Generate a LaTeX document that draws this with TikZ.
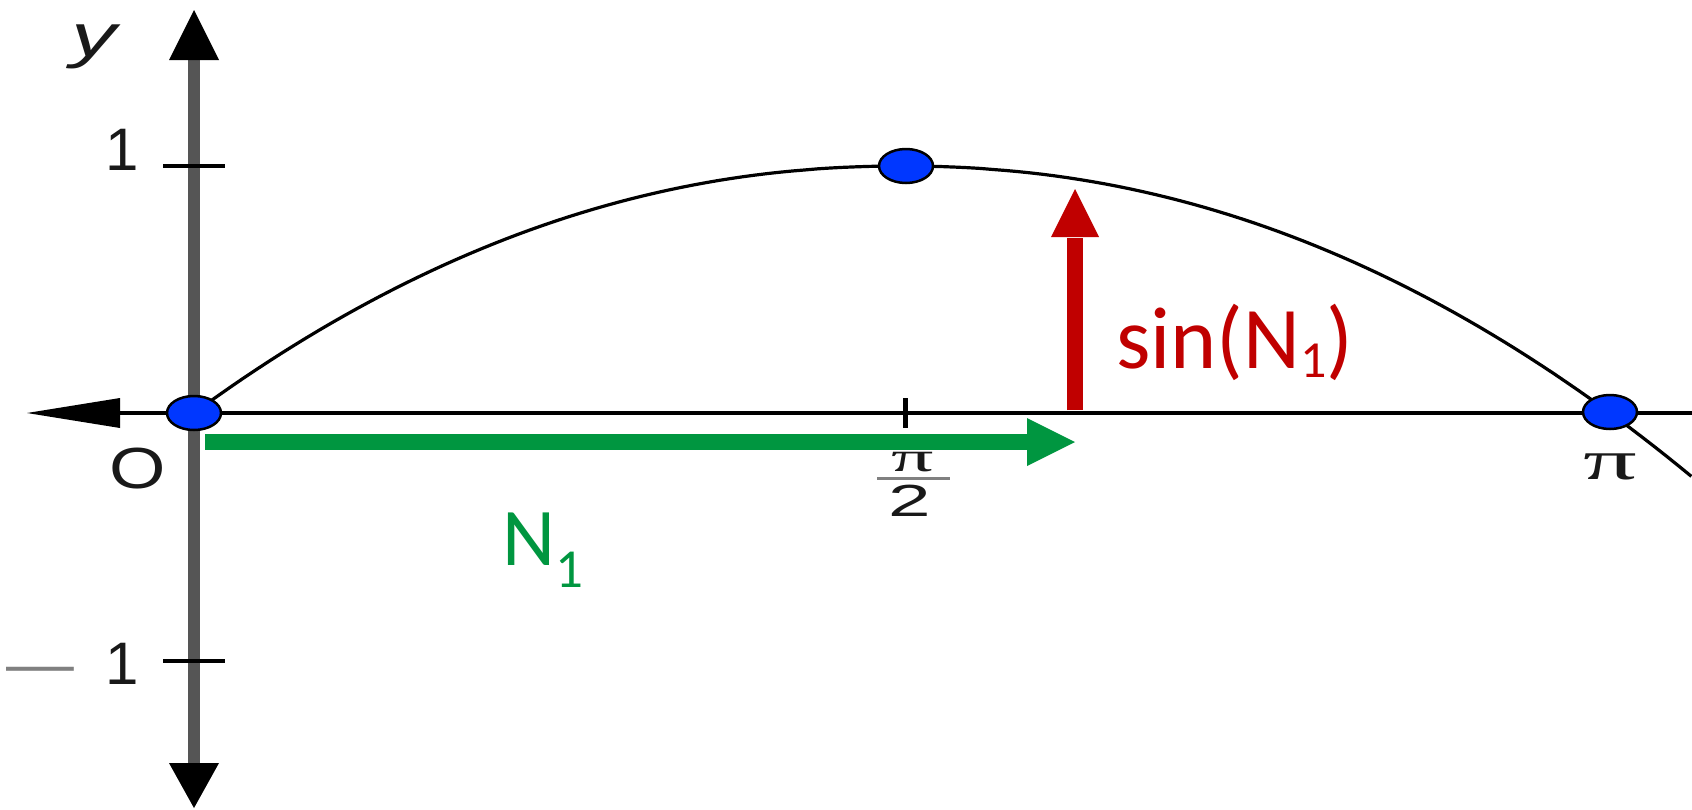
\documentclass[tikz,border=0pt]{standalone}
\usepackage{fontspec}
\usepackage{graphicx}
\setmainfont{Liberation Sans}
\newfontfamily\calibfont{Carlito}
\newfontfamily\pifont{Liberation Serif}
\usetikzlibrary{calc,shapes.geometric}
\definecolor{dotblue}{RGB}{0,55,255}
\definecolor{arrgreen}{RGB}{0,150,64}
\definecolor{arrred}{RGB}{192,0,0}
\definecolor{axisgray}{RGB}{85,85,85}
\definecolor{labelgray}{RGB}{25,25,25}
\newcommand\hs[2]{\scalebox{#1}[1]{#2}}
\begin{document}
\begin{tikzpicture}[x=1pt,y=-1pt,
  yaxisline/.style={draw=axisgray,line width=12pt},
  xaxisline/.style={draw=black,line width=4pt},
  tipfill/.style={fill=black},
  tickmark/.style={draw=black,line width=4pt},
  curveline/.style={draw=black,line width=3.2pt,line join=round},
  dotmark/.style={ellipse,draw=black,line width=2.5pt,fill=dotblue,minimum width=54pt,minimum height=34pt,inner sep=0pt},
  axlabel/.style={inner sep=0pt,text=labelgray},
  fracbar/.style={draw=gray,line width=3pt},
  greenshaft/.style={draw=arrgreen,line width=16pt},
  redshaft/.style={draw=arrred,line width=16pt},
]
\useasboundingbox (0,0) rectangle (1692,809);
% axes coordinates
\coordinate (ytop) at (194,10);
\coordinate (ybot) at (194,808);
\coordinate (yts) at (194,60);
\coordinate (ybs) at (194,763);
\coordinate (xleft) at (27,413);
\coordinate (xls) at (118,413);
\coordinate (xright) at (1692,413);
% y axis
\draw[yaxisline] (yts) -- (ybs);
\fill[tipfill] (ytop) -- ($(yts)+(-25,0)$) -- ($(yts)+(25,0)$) -- cycle;
\fill[tipfill] (ybot) -- ($(ybs)+(-25,0)$) -- ($(ybs)+(25,0)$) -- cycle;
% x axis
\draw[xaxisline] (xls) -- (xright);
\fill[tipfill] (xleft) -- ($(xls)+(2,-15)$) -- ($(xls)+(2,15)$) -- cycle;
% ticks
\coordinate (t1a) at (163,166); \coordinate (t1b) at (225,166);
\coordinate (tm1a) at (163,661); \coordinate (tm1b) at (225,661);
\coordinate (tpa) at (905,398); \coordinate (tpb) at (905,428);
\draw[tickmark] (t1a) -- (t1b);
\draw[tickmark] (tm1a) -- (tm1b);
\draw[tickmark,line width=5pt] (tpa) -- (tpb);
% curve
\draw[curveline] plot[domain=-1:1.1158, samples=121]
  ({902+708*\x},{413-247*(1-pow(abs(\x),2.1))});
% dots
\node[dotmark] (d0) at (194,413) {};
\node[dotmark] (d1) at (906,166) {};
\node[dotmark] (d2) at (1610,412) {};
% green arrow
\coordinate (gs) at (205,442); \coordinate (ge) at (1075,442); \coordinate (gh) at (1027,442);
\draw[greenshaft] (gs) -- ($(gh)+(1,0)$);
\fill[arrgreen] (ge) -- ($(gh)+(0,-24)$) -- ($(gh)+(0,24)$) -- cycle;
% red arrow
\coordinate (rb) at (1075,410); \coordinate (rt) at (1075,189); \coordinate (rh) at (1075,237);
\draw[redshaft] (rb) -- ($(rh)+(0,1)$);
\fill[arrred] (rt) -- ($(rh)+(-24,0)$) -- ($(rh)+(24,0)$) -- cycle;
% axis labels
\node[axlabel,font=\itshape\fontsize{60}{72}\selectfont] (ylab) at (94,47) {\hs{1.5}{y}};
\node[axlabel,font=\fontsize{60}{72}\selectfont] (one) at (122,150) {1};
\node[axlabel,font=\fontsize{58}{70}\selectfont] (olab) at (138,469) {\hs{1.25}{O}};
\node[axlabel,font=\fontsize{60}{72}\selectfont] (mone) at (73,664) {\textcolor{gray}{\hs{1.13}{—}}\hspace{31.5pt}1};
\node[axlabel,anchor=base,font=\pifont\fontsize{42}{50}\selectfont] (pinum) at (913,471) {\hs{2}{π}};
\coordinate (fba) at (877,478); \coordinate (fbb) at (950,478);
\draw[fracbar] (fba) -- (fbb);
\node[axlabel,font=\fontsize{45}{54}\selectfont] (piden) at (910,501) {\hs{1.7}{2}};
\node[axlabel,anchor=base,font=\pifont\fontsize{56}{66}\selectfont] (pilab) at (1610,479) {\hs{1.9}{π}};
% coloured labels
\node[anchor=base west,inner sep=0pt,text=arrred,font=\calibfont\fontsize{88}{100}\selectfont] (sinlab) at (1116,368) {sin(N\raisebox{-9pt}{\fontsize{52}{60}\selectfont 1})};
\node[anchor=base west,inner sep=0pt,text=arrgreen,font=\calibfont\fontsize{82}{96}\selectfont] (nlab) at (502,565) {N\raisebox{-22pt}{\fontsize{55}{66}\selectfont 1}};
\end{tikzpicture}
\end{document}
